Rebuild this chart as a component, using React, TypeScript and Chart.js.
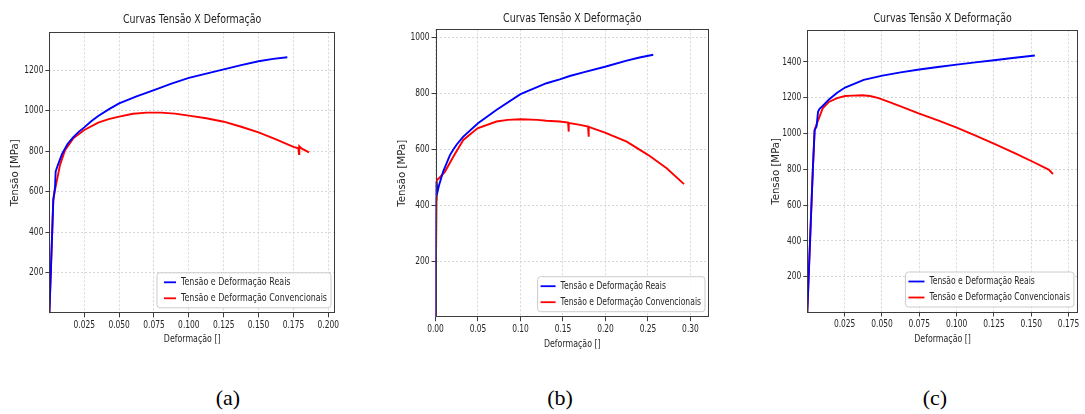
import React, { useEffect, useRef } from 'react';
import { Chart, registerables } from 'chart.js';

Chart.register(...registerables);

// ---------------- text ----------------
const TITLE = 'Curvas Tensão X Deformação';
const X_LABEL = 'Deformação []';
const Y_LABEL = 'Tensão [MPa]';
const SERIES_NAMES = ['Tensão e Deformação Reais', 'Tensão e Deformação Convencionais'];
const SERIES_COLORS = ['#0000ff', '#ff0000'];
const CAPTIONS = ['(a)', '(b)', '(c)'];

// ---------------- data (a) ----------------
const A_REAL_X = [0, 0.0028, 0.004, 0.0045, 0.006, 0.009, 0.013, 0.017, 0.021, 0.025, 0.03, 0.035, 0.0425, 0.05, 0.0625, 0.075, 0.0875, 0.1, 0.1125, 0.125, 0.1375, 0.15, 0.1605, 0.1706];
const A_REAL_Y = [0, 560, 620, 700, 730, 785, 835, 868, 895, 917, 947, 973, 1006, 1035, 1070, 1101, 1133, 1161, 1182, 1203, 1224, 1243, 1255, 1263];
const A_CONV_X = [0, 0.0028, 0.004, 0.0076, 0.0112, 0.0171, 0.025, 0.035, 0.0425, 0.05, 0.06, 0.07, 0.08, 0.09, 0.1, 0.1125, 0.125, 0.1375, 0.15, 0.1625, 0.175, 0.1785, 0.179, 0.1792, 0.181, 0.1862];
const A_CONV_Y = [0, 560, 608, 731, 805, 863, 904, 940, 958, 970, 984, 990, 990, 985, 975, 962, 945, 920, 892, 858, 821, 814, 786, 824, 812, 794];
const A_X_TICKS = [0.025, 0.05, 0.075, 0.1, 0.125, 0.15, 0.175, 0.2];
const A_Y_TICKS = [200, 400, 600, 800, 1000, 1200];
const A_X_RANGE = [0, 0.2048];
const A_Y_RANGE = [0, 1386];

// ---------------- data (b) ----------------
const B_REAL_X = [0, 0.0008, 0.0025, 0.004, 0.009, 0.017, 0.021, 0.025, 0.0327, 0.05, 0.072, 0.1, 0.1306, 0.1462, 0.158, 0.175, 0.1994, 0.225, 0.24, 0.2562];
const B_REAL_Y = [0, 485, 450, 470, 521, 580, 600, 618, 646, 694, 742, 798, 837, 851, 863, 877, 896, 918, 929, 939];
const B_CONV_X = [0, 0.0012, 0.0015, 0.004, 0.0112, 0.0209, 0.0327, 0.0494, 0.0718, 0.085, 0.1, 0.12, 0.1306, 0.1462, 0.156, 0.1565, 0.157, 0.17, 0.1795, 0.18, 0.1805, 0.1994, 0.225, 0.2504, 0.272, 0.2924];
const B_CONV_Y = [0, 420, 490, 497, 521, 574, 634, 676, 700, 706, 708, 706, 703, 700, 696, 664, 695, 688, 682, 646, 681, 660, 628, 580, 533, 476];
const B_X_TICKS = [0, 0.05, 0.1, 0.15, 0.2, 0.25, 0.3];
const B_Y_TICKS = [200, 400, 600, 800, 1000];
const B_X_RANGE = [0, 0.3218];
const B_Y_RANGE = [0, 1030];

// ---------------- data (c) ----------------
const C_REAL_X = [0, 0.0029, 0.0037, 0.0049, 0.0062, 0.0072, 0.0082, 0.0103, 0.0147, 0.02, 0.0253, 0.0378, 0.0503, 0.0625, 0.075, 0.0875, 0.1, 0.1125, 0.125, 0.1375, 0.1524];
const C_REAL_Y = [0, 629, 796, 1019, 1040, 1122, 1138, 1154, 1192, 1228, 1257, 1300, 1324, 1342, 1358, 1372, 1385, 1398, 1410, 1422, 1436];
const C_CONV_X = [0, 0.0029, 0.0037, 0.0049, 0.0055, 0.0082, 0.0103, 0.0147, 0.02, 0.0253, 0.0303, 0.0368, 0.042, 0.0478, 0.055, 0.063, 0.0741, 0.0875, 0.1005, 0.1135, 0.1268, 0.14, 0.1531, 0.1619, 0.1645];
const C_CONV_Y = [0, 629, 796, 1019, 1035, 1095, 1141, 1178, 1198, 1210, 1212, 1214, 1210, 1198, 1176, 1151, 1114, 1074, 1032, 986, 937, 886, 834, 797, 774];
const C_X_TICKS = [0.025, 0.05, 0.075, 0.1, 0.125, 0.15, 0.175];
const C_Y_TICKS = [200, 400, 600, 800, 1000, 1200, 1400];
const C_X_RANGE = [0, 0.1812];
const C_Y_RANGE = [0, 1577];

// ---------------- styling ----------------
const FONT = '"DejaVu Sans", sans-serif';
const TEXT_COLOR = '#262626';
const SQUEEZE = 0.75; // the reference image is horizontally compressed

type Panel = {
  real: [number[], number[]];
  conv: [number[], number[]];
  xTicks: number[];
  yTicks: number[];
  xRange: number[];
  yRange: number[];
  xDecimals: number;
  left: number; width: number; height: number;
  plotTop: number; yAxisW: number; xAxisH: number; rightPad: number;
  titleY: number; xTitlePad: number; yTitlePad: number;
  legendFont: number; legendLine: number; legendLead: number;
  caption: string; captionX: number;
};

const PANELS: Panel[] = [
  {
    real: [A_REAL_X, A_REAL_Y], conv: [A_CONV_X, A_CONV_Y],
    xTicks: A_X_TICKS, yTicks: A_Y_TICKS, xRange: A_X_RANGE, yRange: A_Y_RANGE, xDecimals: 3,
    left: 0, width: 345, height: 352, plotTop: 32.3, yAxisW: 49.4, xAxisH: 38.7, rightPad: 10,
    titleY: 20, xTitlePad: 6.3, yTitlePad: 9,
    legendFont: 10.6, legendLine: 12, legendLead: 7,
    caption: CAPTIONS[0], captionX: 228,
  },
  {
    real: [B_REAL_X, B_REAL_Y], conv: [B_CONV_X, B_CONV_Y],
    xTicks: B_X_TICKS, yTicks: B_Y_TICKS, xRange: B_X_RANGE, yRange: B_Y_RANGE, xDecimals: 2,
    left: 390, width: 330, height: 356, plotTop: 29.3, yAxisW: 45.5, xAxisH: 38.8, rightPad: 11,
    titleY: 18.3, xTitlePad: 5.6, yTitlePad: 6.6,
    legendFont: 10.2, legendLine: 15, legendLead: 3,
    caption: CAPTIONS[1], captionX: 560,
  },
  {
    real: [C_REAL_X, C_REAL_Y], conv: [C_CONV_X, C_CONV_Y],
    xTicks: C_X_TICKS, yTicks: C_Y_TICKS, xRange: C_X_RANGE, yRange: C_Y_RANGE, xDecimals: 3,
    left: 765, width: 320, height: 352, plotTop: 30.3, yAxisW: 42.3, xAxisH: 39.5, rightPad: 2.3,
    titleY: 19, xTitlePad: 6.3, yTitlePad: 5.6,
    legendFont: 10.2, legendLine: 16, legendLead: 3,
    caption: CAPTIONS[2], captionX: 935,
  },
];

function condenseText(ctx: CanvasRenderingContext2D) {
  const orig = ctx.fillText.bind(ctx);
  (ctx as any).fillText = (text: string, x: number, y: number, maxWidth?: number) => {
    if (String(text) === Y_LABEL) {
      if (maxWidth === undefined) orig(text, x, y);
      else orig(text, x, y, maxWidth);
      return;
    }
    ctx.save();
    ctx.translate(x, y);
    ctx.scale(SQUEEZE, 1);
    if (maxWidth === undefined) orig(text, 0, 0);
    else orig(text, 0, 0, maxWidth / SQUEEZE);
    ctx.restore();
  };
}

const framePlugin = {
  id: 'frame',
  afterDraw(chart: any, _args: any, opts: any) {
    const { ctx, chartArea: a } = chart;
    ctx.save();
    // spines on all four sides
    ctx.strokeStyle = '#3c3c3c';
    ctx.lineWidth = 1;
    const l = Math.round(a.left) + 0.5;
    const t = Math.round(a.top) + 0.5;
    const r = Math.round(a.right) - 0.5;
    const b = Math.round(a.bottom) - 0.5;
    ctx.strokeRect(l, t, r - l, b - t);
    // title
    ctx.font = `12.6px ${FONT}`;
    ctx.fillStyle = '#1e1e1e';
    ctx.textAlign = 'center';
    ctx.textBaseline = 'middle';
    ctx.fillText(TITLE, (a.left + a.right) / 2, opts.titleY);
    // legend (lower right)
    ctx.font = `${opts.legendFont}px ${FONT}`;
    const tw = Math.max(...SERIES_NAMES.map((n) => ctx.measureText(n).width)) * SQUEEZE;
    const lineLen = opts.legendLine;
    const lead = opts.legendLead;
    const boxW = lead + lineLen + 5 + tw + 4;
    const boxH = 35;
    const bx = a.right - 4 - boxW;
    const by = a.bottom - 5.5 - boxH;
    ctx.beginPath();
    if ((ctx as any).roundRect) (ctx as any).roundRect(bx, by, boxW, boxH, 3);
    else ctx.rect(bx, by, boxW, boxH);
    ctx.fillStyle = 'rgba(255,255,255,0.85)';
    ctx.fill();
    ctx.strokeStyle = '#cccccc';
    ctx.lineWidth = 1;
    ctx.stroke();
    SERIES_NAMES.forEach((name, i) => {
      const y = by + 9.5 + i * 16;
      ctx.beginPath();
      ctx.moveTo(bx + lead, y);
      ctx.lineTo(bx + lead + lineLen, y);
      ctx.strokeStyle = SERIES_COLORS[i];
      ctx.lineWidth = 1.8;
      ctx.stroke();
      ctx.fillStyle = TEXT_COLOR;
      ctx.textAlign = 'left';
      ctx.textBaseline = 'middle';
      ctx.fillText(name, bx + lead + lineLen + 5, y);
    });
    ctx.restore();
  },
};

function toPoints(xs: number[], ys: number[]) {
  return xs.map((x, i) => ({ x, y: ys[i] }));
}

function PanelChart({ p }: { p: Panel }) {
  const ref = useRef<HTMLCanvasElement | null>(null);
  useEffect(() => {
    const canvas = ref.current;
    if (!canvas) return;
    const ctx = canvas.getContext('2d');
    if (!ctx) return;
    condenseText(ctx);
    const gridCommon = {
      color: '#cccccc',
      lineWidth: 0.8,
      tickLength: 4,
      tickColor: '#3c3c3c',
      tickWidth: 1,
      tickBorderDash: [],
    };
    const chart = new Chart(ctx, {
      type: 'scatter',
      data: {
        datasets: [
          {
            label: SERIES_NAMES[0],
            data: toPoints(p.real[0], p.real[1]),
            borderColor: SERIES_COLORS[0],
            backgroundColor: SERIES_COLORS[0],
            showLine: true,
            pointRadius: 0,
            borderWidth: 1.9,
            tension: 0,
          },
          {
            label: SERIES_NAMES[1],
            data: toPoints(p.conv[0], p.conv[1]),
            borderColor: SERIES_COLORS[1],
            backgroundColor: SERIES_COLORS[1],
            showLine: true,
            pointRadius: 0,
            borderWidth: 1.9,
            tension: 0,
          },
        ],
      },
      options: {
        animation: false,
        responsive: false,
        maintainAspectRatio: false,
        events: [],
        layout: { padding: { top: p.plotTop, right: p.rightPad, left: 0, bottom: 0 } },
        plugins: {
          legend: { display: false },
          tooltip: { enabled: false },
          title: { display: false },
          frame: { titleY: p.titleY, legendFont: p.legendFont, legendLine: p.legendLine, legendLead: p.legendLead },
        } as any,
        scales: {
          x: {
            type: 'linear',
            min: p.xRange[0],
            max: p.xRange[1],
            afterFit: (s: any) => { s.height = p.xAxisH; },
            afterBuildTicks: (s: any) => { s.ticks = p.xTicks.map((v) => ({ value: v })); },
            ticks: {
              autoSkip: false,
              maxRotation: 0,
              padding: 2,
              color: TEXT_COLOR,
              font: { family: FONT, size: 10 },
              callback: (v: any) => Number(v).toFixed(p.xDecimals),
            },
            grid: gridCommon,
            border: { display: false, dash: [2, 2] },
            title: {
              display: true,
              text: X_LABEL,
              color: TEXT_COLOR,
              font: { family: FONT, size: 10.5 },
              padding: { top: 0, bottom: p.xTitlePad },
            },
          },
          y: {
            type: 'linear',
            min: p.yRange[0],
            max: p.yRange[1],
            afterFit: (s: any) => { s.width = p.yAxisW; },
            afterBuildTicks: (s: any) => { s.ticks = p.yTicks.map((v) => ({ value: v })); },
            ticks: {
              autoSkip: false,
              padding: 2,
              color: TEXT_COLOR,
              font: { family: FONT, size: 10 },
              callback: (v: any) => String(Math.round(Number(v))),
            },
            grid: gridCommon,
            border: { display: false, dash: [2, 2] },
            title: {
              display: true,
              text: Y_LABEL,
              color: TEXT_COLOR,
              font: { family: FONT, size: 10.2 },
              padding: { top: p.yTitlePad, bottom: 0 },
            },
          },
        },
      } as any,
      plugins: [framePlugin as any],
    });
    return () => chart.destroy();
  }, [p]);
  return (
    <canvas
      ref={ref}
      width={p.width}
      height={p.height}
      style={{ position: 'absolute', left: p.left, top: 0, width: p.width, height: p.height }}
    />
  );
}

export default function App() {
  return (
    <div style={{ position: 'absolute', left: 0, top: 0, width: 1085, height: 414, background: '#ffffff', overflow: 'hidden' }}>
      {PANELS.map((p, i) => (
        <PanelChart key={i} p={p} />
      ))}
      {PANELS.map((p, i) => (
        <div
          key={'c' + i}
          style={{
            position: 'absolute',
            left: p.captionX - 40,
            width: 80,
            top: 384,
            textAlign: 'center',
            fontFamily: '"Liberation Serif", "DejaVu Serif", serif',
            fontSize: 22,
            lineHeight: '28px',
            color: '#000',
          }}
        >
          {p.caption}
        </div>
      ))}
    </div>
  );
}
